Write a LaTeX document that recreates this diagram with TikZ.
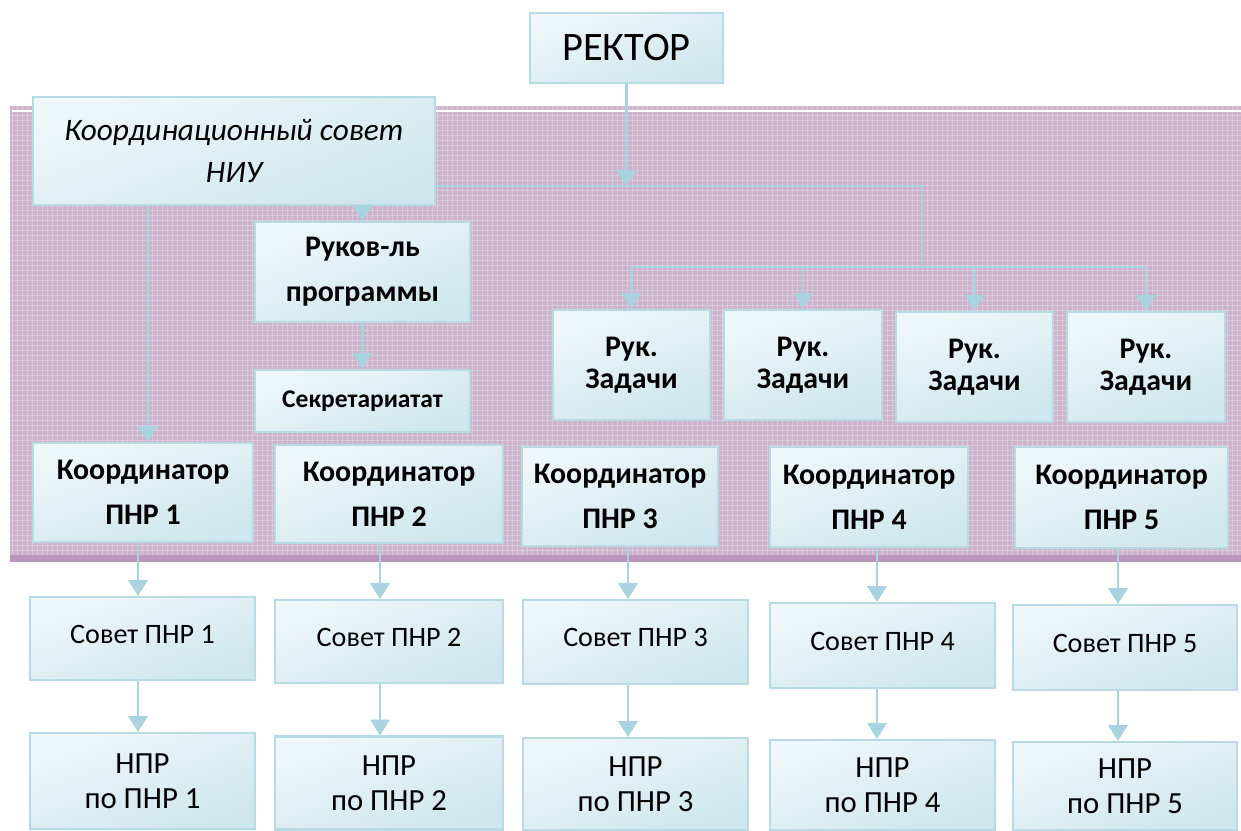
\documentclass[tikz,border=0pt]{standalone}
\usepackage{fontspec}
\setmainfont{Carlito}
\usetikzlibrary{arrows.meta}
\definecolor{boxline}{RGB}{184,218,228}
\definecolor{boxtop}{RGB}{238,247,250}
\definecolor{boxbot}{RGB}{206,230,237}
\definecolor{conn}{RGB}{168,211,223}
\definecolor{band}{RGB}{204,180,205}
\definecolor{bandedge}{RGB}{186,150,188}
\begin{document}
\begin{tikzpicture}[x=0.02cm,y=-0.02cm,
  box/.style 2 args={draw=boxline, line width=1.2pt, top color=boxtop, bottom color=boxbot,
    shading angle=20, minimum width=#1*0.02cm, minimum height=#2*0.02cm,
    inner sep=0pt, align=center, text=black},
  bigf/.style={font=\fontsize{17}{25.5}\selectfont\bfseries},
  rukf/.style={font=\fontsize{17}{18.5}\selectfont\bfseries},
  sovf/.style={font=\fontsize{16}{20}\selectfont},
  nprf/.style={font=\fontsize{17.5}{20}\selectfont},
  arr/.style={draw=conn, line width=1.3pt, -{Triangle[width=11pt,length=9pt]}},
  ln/.style={draw=conn, line width=1.3pt}]
\useasboundingbox (0,0) rectangle (1241,831);
\fill[white] (0,0) rectangle (1241,831);
% background band with fine texture
\fill[band] (10,106) rectangle (1241,562);
\begin{scope}
\clip (10,106) rectangle (1241,554);
\foreach \yy in {110,115,...,555} \draw[white, opacity=0.25, line width=0.3pt] (10,\yy) -- (1241,\yy);
\foreach \xx in {12,17,...,1241} \draw[white, opacity=0.25, line width=0.3pt] (\xx,106) -- (\xx,562);
\end{scope}
\fill[bandedge] (10,555) rectangle (1241,562);
\draw[white, line width=0.8pt] (12,111) -- (1241,111);

% column coordinates
\coordinate (c1) at (138,0);
\coordinate (c2) at (380,0);
\coordinate (c3) at (628,0);
\coordinate (c4) at (877,0);
\coordinate (c5) at (1118,0);
\coordinate (kx) at (148,0);
\coordinate (h1) at (922,186);
\coordinate (h2) at (922,267);

% nodes
\node[box={193}{70}, font=\fontsize{23}{28}\selectfont] (rektor) at (626.5,48) {РЕКТОР};
\node[box={402}{108}, font=\fontsize{17.8}{24}\selectfont\itshape] (koord) at (234,151) {Координационный совет\\НИУ};
\node[box={215}{100}, bigf] (rukprog) at (362.5,272) {Руков-ль\\программы};
\node[box={215}{62}, font=\fontsize{14.5}{16}\selectfont\bfseries] (sekr) at (362.5,401) {Секретариатат};

\node[box={157}{110}, rukf] (ruk1) at (631.5,365) {Рук.\\Задачи};
\node[box={158}{110}, rukf] (ruk2) at (803,365) {Рук.\\Задачи};
\node[box={157}{110}, rukf] (ruk3) at (974.5,367) {Рук.\\Задачи};
\node[box={158}{110}, rukf] (ruk4) at (1146,367) {Рук.\\Задачи};

\node[box={220}{99}, bigf] (kp1) at (143,492.5) {Координатор\\ПНР 1};
\node[box={228}{98}, bigf] (kp2) at (389,494) {Координатор\\ПНР 2};
\node[box={196}{99}, bigf] (kp3) at (620,496.5) {Координатор\\ПНР 3};
\node[box={198}{100}, bigf] (kp4) at (869,497) {Координатор\\ПНР 4};
\node[box={213}{101}, bigf] (kp5) at (1121.5,497.5) {Координатор\\ПНР 5};

\node[box={225}{83}, sovf] (sov1) at (142.5,638.5) {\raisebox{5pt}{Совет ПНР 1}};
\node[box={228}{83}, sovf] (sov2) at (389,641.5) {\raisebox{5pt}{Совет ПНР 2}};
\node[box={225}{84}, sovf] (sov3) at (635.5,642) {\raisebox{5pt}{Совет ПНР 3}};
\node[box={225}{85}, sovf] (sov4) at (882.5,645.5) {\raisebox{5pt}{Совет ПНР 4}};
\node[box={224}{85}, sovf] (sov5) at (1125,647.5) {\raisebox{5pt}{Совет ПНР 5}};

\node[box={225}{96}, nprf] (npr1) at (142.5,781) {НПР\\по ПНР 1};
\node[box={228}{93}, nprf] (npr2) at (389,783) {НПР\\по ПНР 2};
\node[box={225}{92}, nprf] (npr3) at (635.5,784) {НПР\\по ПНР 3};
\node[box={225}{90}, nprf] (npr4) at (882.5,785) {НПР\\по ПНР 4};
\node[box={224}{88}, nprf] (npr5) at (1125,786) {НПР\\по ПНР 5};

% connectors
\draw[ln] (koord.east |- h1) -- (h1) -- (h2);
\draw[ln] (ruk1.north |- h2) -- (ruk4.north |- h2);
\draw[arr] (rektor.south) -- (rektor.south |- h1);
\foreach \r in {ruk1,ruk2,ruk3,ruk4}
  \draw[arr] (\r.north |- h2) -- (\r.north);
\draw[arr] (koord.south -| rukprog) -- (rukprog.north);
\draw[arr] (rukprog.south) -- (sekr.north);
\draw[arr] (koord.south -| kx) -- (kp1.north -| kx);
\foreach \i in {1,...,5} {
  \draw[arr] (kp\i.south -| c\i) -- (sov\i.north -| c\i);
  \draw[arr] (sov\i.south -| c\i) -- (npr\i.north -| c\i);
}
\end{tikzpicture}
\end{document}
